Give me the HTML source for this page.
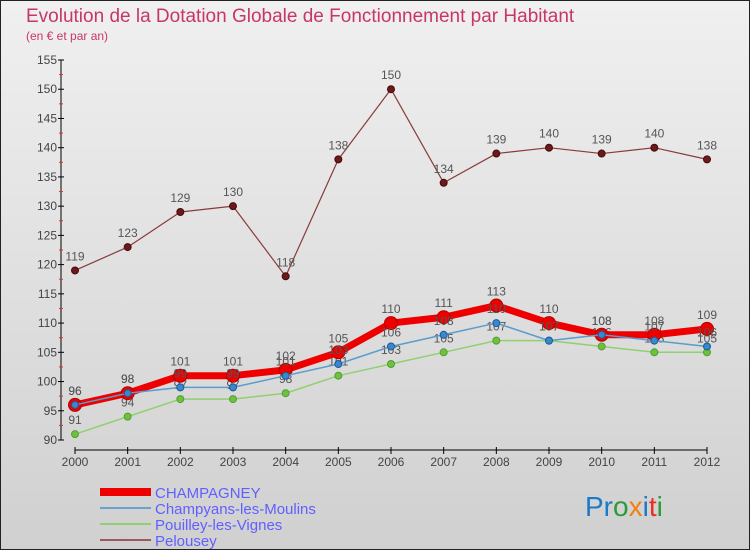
<!DOCTYPE html>
<html><head><meta charset="utf-8"><style>
html,body{margin:0;padding:0}
body{width:750px;height:550px;overflow:hidden}
svg{display:block;font-family:"Liberation Sans",sans-serif}
</style></head><body>
<svg id="c" width="750" height="550">
<defs><linearGradient id="bg" x1="0" y1="0" x2="0" y2="1"><stop offset="0" stop-color="#f0f0f0"/><stop offset="1" stop-color="#d0d0d0"/></linearGradient></defs>
<rect x="0.5" y="0.5" width="749" height="549" fill="url(#bg)" stroke="#222"/>
<text x="26" y="22" font-size="19" fill="#c8356b">Evolution de la Dotation Globale de Fonctionnement par Habitant</text>
<text x="26" y="40" font-size="12" fill="#c8356b">(en € et par an)</text>
<g id="axes"></g><g id="series"></g><g id="legend"></g>
<text x="585" y="516" font-size="28"><tspan fill="#1a7ac8">Pr</tspan><tspan fill="#2a9a3a">o</tspan><tspan fill="#f08010">x</tspan><tspan fill="#1a7ac8">i</tspan><tspan fill="#e83020">t</tspan><tspan fill="#2a9a3a">i</tspan></text>
</svg>
<script>
const years=["2000","2001","2002","2003","2004","2005","2006","2007","2008","2009","2010","2011","2012"];
const champagney=[96,98,101,101,102,105,110,111,113,110,108,108,109];
const champyans=[96,98,99,99,101,103,106,108,110,107,108,107,106];
const pouilley=[91,94,97,97,98,101,103,105,107,107,106,105,105];
const pelousey=[119,123,129,130,118,138,150,134,139,140,139,140,138];
const yTicks=[90,95,100,105,110,115,120,125,130,135,140,145,150,155];
const NS="http://www.w3.org/2000/svg";
const x=i=>75+i*(707-75)/(years.length-1);
const y=v=>440-(v-90)*(380/65);
function el(t,a,p){const e=document.createElementNS(NS,t);for(const k in a)e.setAttribute(k,a[k]);p.appendChild(e);return e;}
const ax=document.getElementById('axes');
let l=el('line',{x1:61,y1:60,x2:61,y2:440,stroke:'#000'},ax);


l=el('line',{x1:75,y1:450,x2:707,y2:450,stroke:'#000'},ax);


yTicks.forEach((v,i)=>{
  el('line',{x1:58,y1:y(v),x2:64,y2:y(v),stroke:'#000'},ax);
  if(i<yTicks.length-1) el('line',{x1:59,y1:y(v+2.5),x2:63,y2:y(v+2.5),stroke:'#e03030'},ax);
  const t=el('text',{x:57,y:y(v)+4,'font-size':12,'text-anchor':'end',fill:'#444'},ax);t.textContent=v;
  
  
});
years.forEach((yr,i)=>{
  el('line',{x1:x(i),y1:447,x2:x(i),y2:454,stroke:'#000'},ax);
  const t=el('text',{x:x(i),y:466,'font-size':12,'text-anchor':'middle',fill:'#444'},ax);t.textContent=yr;
  
  
});
const sg=document.getElementById('series');
function series(name,data,color,w,r,dot,dotStroke){
  const g=el('g',{},sg);
  
  
  const p=el('polyline',{points:data.map((v,i)=>x(i)+','+y(v)).join(' '),fill:'none',stroke:color,'stroke-width':w,'stroke-linejoin':'round'},g);
  
  
  data.forEach((v,i)=>{
    const c=el('circle',{cx:x(i),cy:y(v),r:r,fill:dot,stroke:dotStroke,'stroke-width':1},g);
    
    
    const t=el('text',{x:x(i),y:y(v)-10,'font-size':12,'text-anchor':'middle',fill:'#555'},g);t.textContent=v;
    
    
  });
}
series('pelousey',pelousey,'#8a3a3a',1.2,3.5,'#6a1a1a','#4a0a0a');
series('pouilley',pouilley,'#90d070',1.5,3.5,'#70c040','#50a030');
series('champagney',champagney,'#ee0000',7,6.5,'#ee0000','#b00000');
series('champyans',champyans,'#5a9ccc',1.5,3.5,'#3a88cc','#1a5a99');
const lg=document.getElementById('legend');
const items=[['CHAMPAGNEY','#ee0000',8],['Champyans-les-Moulins','#6aa4cc',2],['Pouilley-les-Vignes','#90d070',2],['Pelousey','#9a5a5a',2]];
items.forEach((it,i)=>{
  const yy=492+i*16;
  const g=el('g',{},lg);
  
  
  el('line',{x1:100,y1:yy,x2:151,y2:yy,stroke:it[1],'stroke-width':it[2]},g);
  const t=el('text',{x:155,y:yy+6,'font-size':15,fill:'#6060ff'},g);t.textContent=it[0];
});
</script>
</body></html>
